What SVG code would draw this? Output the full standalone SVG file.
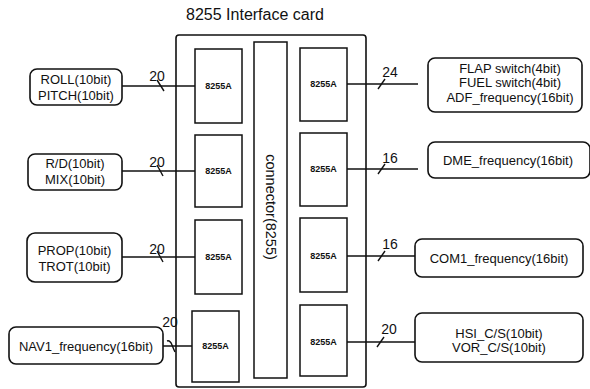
<svg xmlns="http://www.w3.org/2000/svg" width="590" height="389" viewBox="0 0 590 389">
<style>
.bg{fill:#fff}
.box{fill:#fff;stroke:#111;stroke-width:1.6}
.chip{fill:#fff;stroke:#111;stroke-width:1.5}
.node{fill:#fff;stroke:#111;stroke-width:1.6}
.t{font-family:"Liberation Sans",Arial,sans-serif;font-size:13px;fill:#111;text-anchor:middle}
.c{font-family:"Liberation Sans",Arial,sans-serif;font-size:9px;font-weight:bold;fill:#111;text-anchor:middle}
.n{font-family:"Liberation Sans",Arial,sans-serif;font-size:14px;fill:#111;text-anchor:middle}
.title{font-family:"Liberation Sans",Arial,sans-serif;font-size:16px;fill:#111;text-anchor:middle}
.ln{stroke:#111;stroke-width:1.5;fill:none}
.sl{stroke:#111;stroke-width:1.4;fill:none}
</style>
<rect class="bg" x="0" y="0" width="590" height="389"/>
<text class="title" x="255" y="20">8255 Interface card</text>
<g id="card">
  <rect class="box" x="176" y="35" width="190" height="352" rx="3"/>
</g>
<g id="connector8255">
  <rect class="chip" x="254" y="42" width="33" height="336"/>
  <text class="t" transform="translate(270,207) rotate(90)" dy="4.5" style="font-size:14.5px">connector(8255)</text>
</g>
<g id="chipL1"><rect class="chip" x="195" y="49" width="47" height="74"/><text class="c" x="218.5" y="89">8255A</text></g>
<g id="chipL2"><rect class="chip" x="195" y="135" width="47" height="72"/><text class="c" x="218.5" y="174">8255A</text></g>
<g id="chipL3"><rect class="chip" x="195" y="220" width="47" height="74"/><text class="c" x="218.5" y="260">8255A</text></g>
<g id="chipL4"><rect class="chip" x="192" y="311" width="47" height="71"/><text class="c" x="215.5" y="349">8255A</text></g>
<g id="chipR1"><rect class="chip" x="300" y="48" width="47" height="73"/><text class="c" x="323.5" y="87">8255A</text></g>
<g id="chipR2"><rect class="chip" x="300" y="133" width="47" height="73"/><text class="c" x="323.5" y="172">8255A</text></g>
<g id="chipR3"><rect class="chip" x="300" y="218" width="47" height="74"/><text class="c" x="323.5" y="259">8255A</text></g>
<g id="chipR4"><rect class="chip" x="300" y="305" width="47" height="71"/><text class="c" x="323.5" y="345">8255A</text></g>

<g id="n_roll"><rect class="node" x="30" y="69" width="92" height="36" rx="7"/><text class="t" x="76" y="83.5">ROLL(10bit)</text><text class="t" x="76" y="99.5">PITCH(10bit)</text></g>
<g id="n_rd"><rect class="node" x="28" y="154" width="94" height="36" rx="7"/><text class="t" x="75" y="168">R/D(10bit)</text><text class="t" x="75" y="184">MIX(10bit)</text></g>
<g id="n_prop"><rect class="node" x="27" y="233" width="95" height="49" rx="8"/><text class="t" x="74.5" y="254.5">PROP(10bit)</text><text class="t" x="74.5" y="270.5">TROT(10bit)</text></g>
<g id="n_nav1"><rect class="node" x="9" y="327" width="154" height="37" rx="7"/><text class="t" x="86" y="350.5">NAV1_frequency(16bit)</text></g>

<g id="n_flap"><rect class="node" x="428" y="58" width="154" height="54" rx="7"/><text class="t" x="510" y="72.5">FLAP switch(4bit)</text><text class="t" x="510" y="87">FUEL switch(4bit)</text><text class="t" x="510" y="102">ADF_frequency(16bit)</text></g>
<g id="n_dme"><rect class="node" x="428" y="142" width="162" height="36" rx="7"/><text class="t" x="508" y="165">DME_frequency(16bit)</text></g>
<g id="n_com1"><rect class="node" x="415" y="239" width="168" height="38" rx="7"/><text class="t" x="499" y="262.5">COM1_frequency(16bit)</text></g>
<g id="n_hsi"><rect class="node" x="415" y="313" width="168" height="49" rx="7"/><text class="t" x="499" y="338">HSI_C/S(10bit)</text><text class="t" x="499" y="352">VOR_C/S(10bit)</text></g>

<g id="connectors">
  <line class="ln" x1="122" y1="86" x2="195" y2="86"/>
  <line class="sl" x1="157" y1="80" x2="164" y2="91"/>
  <text class="n" x="157" y="81">20</text>

  <line class="ln" x1="122" y1="171" x2="195" y2="171"/>
  <line class="sl" x1="157" y1="165" x2="163" y2="176"/>
  <text class="n" x="157" y="167">20</text>

  <line class="ln" x1="122" y1="257" x2="195" y2="257"/>
  <line class="sl" x1="157" y1="251" x2="163" y2="262"/>
  <text class="n" x="157" y="254">20</text>

  <line class="ln" x1="163" y1="346" x2="192" y2="346"/>
  <path class="sl" d="M167,341 Q170,340 172,345 T175,352"/>
  <text class="n" x="170" y="327">20</text>

  <line class="ln" x1="347" y1="84" x2="418" y2="84"/>
  <line class="sl" x1="378" y1="89" x2="385" y2="79"/>
  <text class="n" x="390" y="77">24</text>

  <line class="ln" x1="347" y1="169" x2="418" y2="169"/>
  <line class="sl" x1="378" y1="174" x2="385" y2="164"/>
  <text class="n" x="390" y="163">16</text>

  <line class="ln" x1="347" y1="256" x2="415" y2="256"/>
  <line class="sl" x1="378" y1="261" x2="385" y2="251"/>
  <text class="n" x="390" y="249">16</text>

  <line class="ln" x1="347" y1="342" x2="415" y2="342"/>
  <line class="sl" x1="377" y1="347" x2="384" y2="337"/>
  <text class="n" x="389" y="334">20</text>
</g>
</svg>
